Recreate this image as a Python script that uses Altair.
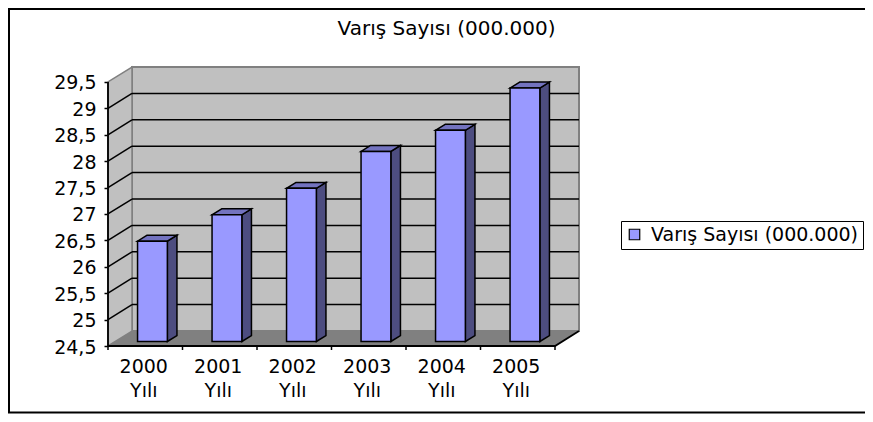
import json
import altair as alt
import pandas as pd

years = ["2000", "2001", "2002", "2003", "2004", "2005"]
values = [26.4, 26.9, 27.4, 28.1, 28.5, 29.3]
series_name = "Varış Sayısı (000.000)"
y_ticks = [24.5, 25, 25.5, 26, 26.5, 27, 27.5, 28, 28.5, 29, 29.5]
FONT = "DejaVu Sans"
FS = 19

W, H = 471, 279
n = len(years)
ymin, ymax = y_ticks[0], y_ticks[-1]
DX = 24 / 74.5          # chart depth in category units
DY = 15 / 52.9          # chart depth in value units
BAR = 0.4
GAP = 0.3
F0, F1 = 0.3, 0.7       # bar front and back, as a share of chart depth

xs = alt.Scale(domain=[0, n + DX], nice=False, zero=False)
ys = alt.Scale(domain=[ymin, ymax + DY], nice=False, zero=False)

label_pairs = [[y, "Yılı"] for y in years]
xaxis = alt.Axis(
    title=None, grid=False, domain=False, values=[i + 0.5 for i in range(n)], tickSize=0,
    labelExpr=json.dumps(label_pairs, ensure_ascii=False) + "[floor(datum.value)]",
    labelFont=FONT, labelFontSize=FS, labelColor="#000000", labelPadding=11, labelLineHeight=24,
    labelAngle=0, labelAlign="center", labelBaseline="top", labelFlush=False, labelOverlap=False,
    labelOffset=-2,
)
yaxis = alt.Axis(
    title=None, grid=False, domain=False, values=y_ticks, tickSize=4, tickWidth=1.5, tickColor="#000000",
    labelExpr="replace('' + datum.value, '.', ',')",
    labelFont=FONT, labelFontSize=FS, labelColor="#000000", labelPadding=8, labelOverlap=False, labelFlush=False,
    labelOffset=1,
)
X = lambda f="x:Q": alt.X(f, scale=xs, axis=xaxis)
Y = lambda f="y:Q": alt.Y(f, scale=ys, axis=yaxis)

WALL, FLOOR, EDGE = "#C0C0C0", "#808080", "#808080"
FRONT, SIDE, TOP = "#9999FF", "#4D4D80", "#7373BF"

# frame
frame = alt.Chart(pd.DataFrame({"a": [0]})).mark_rect(
    fillOpacity=0, stroke="#000000", strokeWidth=2
).encode(x=alt.value(-99), x2=alt.value(775), y=alt.value(-58), y2=alt.value(345.5))

# walls
back = alt.Chart(pd.DataFrame({"x": [DX], "x2": [n + DX], "y": [ymin + DY], "y2": [ymax + DY]})).mark_rect(
    fill=WALL, stroke=EDGE, strokeWidth=2
).encode(x=X(), x2="x2:Q", y=Y(), y2="y2:Q")

left = alt.Chart(pd.DataFrame({"x": [0, DX], "y": [ymin, ymin + DY], "y2": [ymax, ymax + DY]})).mark_area(
    fill=WALL, stroke=EDGE, strokeWidth=1.5
).encode(x=X(), y=Y(), y2="y2:Q")

floor = alt.Chart(pd.DataFrame({"y": [ymin, ymin + DY], "x": [0, DX], "x2": [n, n + DX]})).mark_area(
    orient="horizontal", fill=FLOOR
).encode(y=Y(), x=X(), x2="x2:Q")

# gridlines
grid_vals = [t for t in y_ticks[1:-1]]
grid_back = alt.Chart(pd.DataFrame({"y": [t + DY for t in grid_vals], "x": DX, "x2": n + DX})).mark_rule(
    color="#000000", strokeWidth=1.5
).encode(x=X(), x2="x2:Q", y=Y())
grid_side = alt.Chart(pd.DataFrame(
    [{"k": t, "x": 0, "y": t} for t in grid_vals] + [{"k": t, "x": DX, "y": t + DY} for t in grid_vals]
)).mark_line(color="#000000", strokeWidth=1.5).encode(x=X(), y=Y(), detail="k:N")

# front edges of the box
edge = alt.Chart(pd.DataFrame({"x": [0, 0, n, n + DX], "y": [ymax, ymin, ymin, ymin + DY], "o": [0, 1, 2, 3]})).mark_line(
    color="#000000", strokeWidth=1.8
).encode(x=X(), y=Y(), order="o:Q")

# bars
front_rows, side_rows, top_rows = [], [], []
for i, (yr, v) in enumerate(zip(years, values)):
    x0 = i + GAP + F0 * DX
    x1 = x0 + BAR
    b0 = ymin + F0 * DY
    t0 = v + F0 * DY
    sx = (F1 - F0) * DX
    sy = (F1 - F0) * DY
    front_rows.append({"x": x0, "x2": x1, "y": b0, "y2": t0, "s": series_name})
    side_rows += [{"c": yr, "x": x1, "y": b0, "y2": t0}, {"c": yr, "x": x1 + sx, "y": b0 + sy, "y2": t0 + sy}]
    top_rows += [{"c": yr, "y": t0, "x": x0, "x2": x1}, {"c": yr, "y": t0 + sy, "x": x0 + sx, "x2": x1 + sx}]

side = alt.Chart(pd.DataFrame(side_rows)).mark_area(
    fill=SIDE, stroke="#000000", strokeWidth=1.5
).encode(x=X(), y=Y(), y2="y2:Q", detail="c:N")
top = alt.Chart(pd.DataFrame(top_rows)).mark_area(
    orient="horizontal", fill=TOP, stroke="#000000", strokeWidth=1.5
).encode(y=Y(), x=X(), x2="x2:Q", detail="c:N")
front = alt.Chart(pd.DataFrame(front_rows)).mark_rect(stroke="#000000", strokeWidth=1.5).encode(
    x=X(), x2="x2:Q", y=Y(), y2="y2:Q",
    color=alt.Color("s:N", scale=alt.Scale(domain=[series_name], range=[FRONT]), legend=alt.Legend(
        orient="none", legendX=513, legendY=154, title=None,
        fillColor="#FFFFFF", strokeColor="#000000", padding=4,
        symbolType="square", symbolSize=110, symbolStrokeColor="#000000", symbolStrokeWidth=1.2,
        labelFont=FONT, labelFontSize=FS, labelColor="#000000", labelOffset=7, labelLimit=400,
    )),
)

xticks = alt.Chart(pd.DataFrame({"x": list(range(n + 1))})).mark_rule(color="#000000", strokeWidth=1.5).encode(
    x=X(), y=alt.value(H), y2=alt.value(H + 4)
)

chart = alt.layer(
    back, frame, left, floor, grid_back, grid_side, edge, xticks, side, top, front
).properties(
    width=W, height=H,
    title=alt.TitleParams(series_name, font=FONT, fontSize=20, fontWeight="normal", color="#000000",
                          anchor="middle", dx=103, dy=31, offset=0),
    autosize=alt.AutoSizeParams(type="none"),
    padding={"left": 100, "top": 59, "right": 286, "bottom": 68},
).configure_view(stroke=None)

chart.save("out.html", embed_options={"renderer": "svg", "actions": False})
